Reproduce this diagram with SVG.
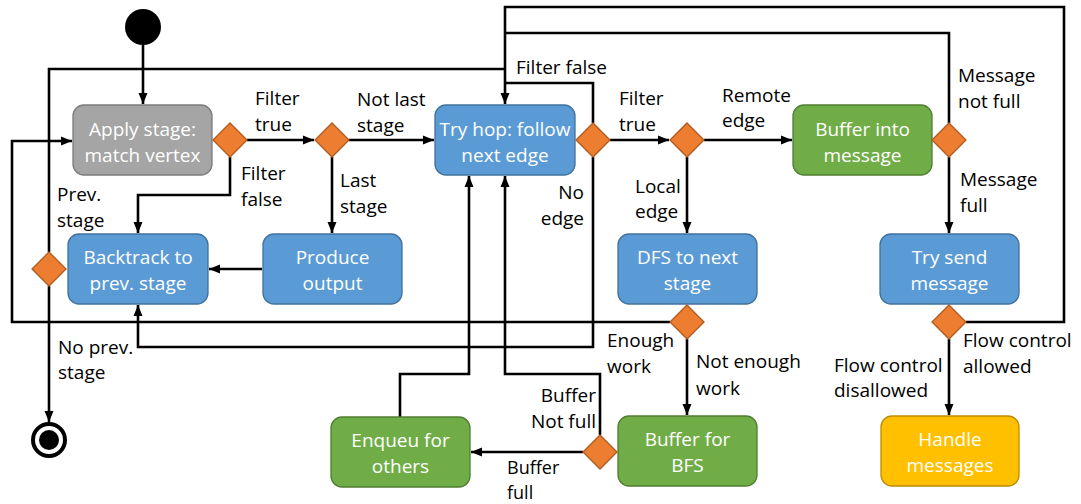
<svg xmlns="http://www.w3.org/2000/svg" width="1081" height="504" viewBox="0 0 1081 504">
<defs>
<marker id="arr" markerUnits="userSpaceOnUse" markerWidth="12" markerHeight="10" refX="11" refY="5" orient="auto">
<path d="M0,0.5 L11,5 L0,9.5 Z" fill="#000"/>
</marker>
<style>
.c{fill:none;stroke:#000;stroke-width:2.6;}
.a{marker-end:url(#arr);}
.n{stroke-width:1.3;}
.gray{fill:#a5a5a5;stroke:#7b7b7b;}
.blue{fill:#5b9bd5;stroke:#41719c;}
.green{fill:#70ad47;stroke:#507e32;}
.yel{fill:#ffc000;stroke:#bc8c00;}
.dia{fill:#ed7d31;stroke:#ae5a21;stroke-width:1.3;}
text{font-family:"Open Sans","Noto Sans",sans-serif;font-size:19px;}
.nt{fill:#fff;text-anchor:middle;}
.lb{fill:#000;}
.r{text-anchor:end;}
.sm{font-size:18px;}
</style>
</defs>
<rect width="1081" height="504" fill="#fff"/>

<g id="connectors">
<path class="c a" d="M143,45 V104"/>
<path class="c a" d="M247,140 H314"/>
<path class="c a" d="M230,157 V195 H138 V233"/>
<path class="c a" d="M332,157 V233"/>
<path class="c a" d="M349,140 H434"/>
<path class="c a" d="M262,269 H209"/>
<path class="c a" d="M610,140 H669"/>
<path class="c" d="M593,123 V83 H505"/>
<path class="c a" d="M966,322 H1064 V7 H505 V104"/>
<path class="c" d="M949,123 V33 H505"/>
<path class="c" d="M49,252 V69 H505"/>
<path class="c a" d="M687,157 V233"/>
<path class="c a" d="M704,140 H792"/>
<path class="c a" d="M949,157 V233"/>
<path class="c a" d="M49,286 V422"/>
<path class="c a" d="M670,322 H12 V141 H72"/>
<path class="c a" d="M593,157 V347 H138 V305"/>
<path class="c a" d="M687,339 V415"/>
<path class="c a" d="M583,452 H471"/>
<path class="c a" d="M400,417 V374 H469 V176"/>
<path class="c a" d="M600,435 V374 H505 V176"/>
<path class="c a" d="M949,339 V415"/>
</g>

<g id="start"><circle cx="143" cy="27" r="18" fill="#000"/></g>
<g id="end">
<circle cx="49" cy="440" r="16" fill="#fff" stroke="#000" stroke-width="4"/>
<circle cx="49" cy="440" r="10" fill="#000"/>
</g>

<g id="apply"><rect class="n gray" x="73" y="105" width="139" height="70" rx="11"/>
<text class="nt" x="142.5" y="136">Apply stage:</text><text class="nt" x="142.5" y="162">match vertex</text></g>
<g id="backtrack"><rect class="n blue" x="68" y="234" width="140" height="70" rx="11"/>
<text class="nt" x="138" y="264">Backtrack to</text><text class="nt" x="138" y="290">prev. stage</text></g>
<g id="produce"><rect class="n blue" x="263" y="234" width="139" height="70" rx="11"/>
<text class="nt" x="332.5" y="264">Produce</text><text class="nt" x="332.5" y="290">output</text></g>
<g id="tryhop"><rect class="n blue" x="435" y="105" width="140" height="70" rx="11"/>
<text class="nt" x="505" y="136">Try hop: follow</text><text class="nt" x="505" y="162">next edge</text></g>
<g id="dfs"><rect class="n blue" x="618" y="234" width="139" height="70" rx="11"/>
<text class="nt" x="687.5" y="264">DFS to next</text><text class="nt" x="687.5" y="290">stage</text></g>
<g id="bufmsg"><rect class="n green" x="793" y="105" width="139" height="70" rx="11"/>
<text class="nt" x="862.5" y="136">Buffer into</text><text class="nt" x="862.5" y="162">message</text></g>
<g id="trysend"><rect class="n blue" x="880" y="234" width="139" height="70" rx="11"/>
<text class="nt" x="949.5" y="264">Try send</text><text class="nt" x="949.5" y="290">message</text></g>
<g id="handle"><rect class="n yel" x="881" y="416" width="138" height="70" rx="11"/>
<text class="nt" x="950" y="446">Handle</text><text class="nt" x="950" y="472">messages</text></g>
<g id="bufbfs"><rect class="n green" x="618" y="416" width="139" height="70" rx="11"/>
<text class="nt" x="687.5" y="446">Buffer for</text><text class="nt" x="687.5" y="472">BFS</text></g>
<g id="enqueu"><rect class="n green" x="331" y="417" width="139" height="70" rx="11"/>
<text class="nt" x="400.5" y="447">Enqueu for</text><text class="nt" x="400.5" y="473">others</text></g>

<g id="d1"><path class="dia" d="M230,123 L247,140 L230,157 L213,140 Z"/></g>
<g id="d2"><path class="dia" d="M332,123 L349,140 L332,157 L315,140 Z"/></g>
<g id="d3"><path class="dia" d="M593,123 L610,140 L593,157 L576,140 Z"/></g>
<g id="d4"><path class="dia" d="M687,123 L704,140 L687,157 L670,140 Z"/></g>
<g id="d5"><path class="dia" d="M949,123 L966,140 L949,157 L932,140 Z"/></g>
<g id="d6"><path class="dia" d="M49,252 L66,269 L49,286 L32,269 Z"/></g>
<g id="d7"><path class="dia" d="M687,305 L704,322 L687,339 L670,322 Z"/></g>
<g id="d8"><path class="dia" d="M600,435 L617,452 L600,469 L583,452 Z"/></g>
<g id="d9"><path class="dia" d="M949,305 L966,322 L949,339 L932,322 Z"/></g>

<g id="labels">
<text class="lb" x="255" y="105">Filter</text><text class="lb" x="255" y="131">true</text>
<text class="lb" x="241" y="180">Filter</text><text class="lb" x="241" y="206">false</text>
<text class="lb" x="57" y="201">Prev.</text><text class="lb" x="57" y="227">stage</text>
<text class="lb" x="357" y="106">Not last</text><text class="lb" x="357" y="132">stage</text>
<text class="lb" x="340" y="187">Last</text><text class="lb" x="340" y="213">stage</text>
<text class="lb" x="516" y="74">Filter false</text>
<text class="lb" x="619" y="105">Filter</text><text class="lb" x="619" y="131">true</text>
<text class="lb r" x="584" y="199">No</text><text class="lb r" x="584" y="225">edge</text>
<text class="lb" x="635" y="193">Local</text><text class="lb" x="635" y="218">edge</text>
<text class="lb" x="722" y="102">Remote</text><text class="lb" x="722" y="127">edge</text>
<text class="lb" x="958" y="82">Message</text><text class="lb" x="958" y="108">not full</text>
<text class="lb" x="960" y="186">Message</text><text class="lb" x="960" y="212">full</text>
<text class="lb" x="607" y="347">Enough</text><text class="lb" x="607" y="373">work</text>
<text class="lb" x="696" y="368">Not enough</text><text class="lb" x="696" y="395">work</text>
<text class="lb r" x="596" y="402">Buffer</text><text class="lb r" x="596" y="428">Not full</text>
<text class="lb sm" x="507" y="474">Buffer</text><text class="lb sm" x="507" y="499">full</text>
<text class="lb" x="58" y="354">No prev.</text><text class="lb" x="58" y="379">stage</text>
<text class="lb" x="963" y="347">Flow control</text><text class="lb" x="963" y="373">allowed</text>
<text class="lb" x="834" y="372">Flow control</text><text class="lb" x="834" y="397">disallowed</text>
</g>
</svg>
